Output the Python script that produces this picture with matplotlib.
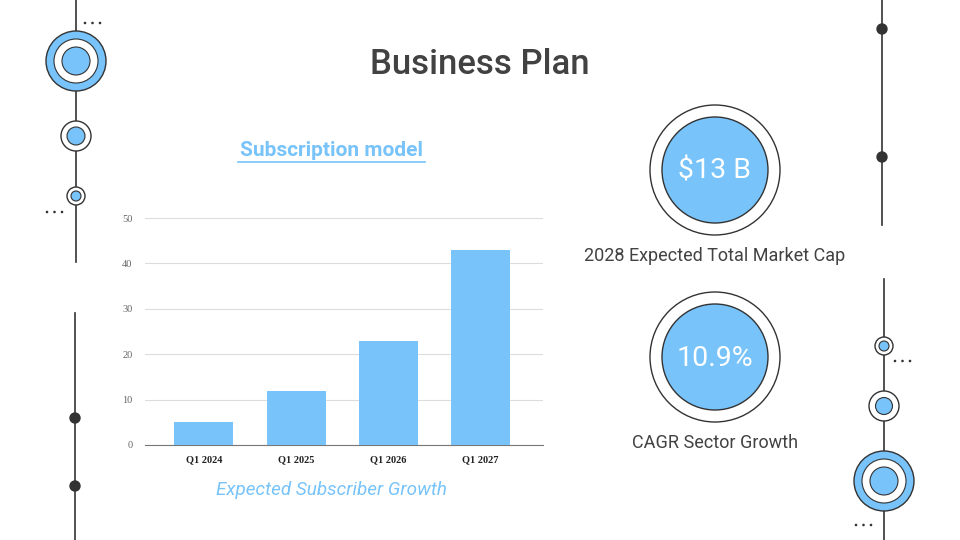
import matplotlib
matplotlib.use("Agg")
import matplotlib.pyplot as plt
from matplotlib.patches import Circle

categories = ["Q1 2024", "Q1 2025", "Q1 2026", "Q1 2027"]
subscribers = [5, 12, 23, 43]
y_ticks = [0, 10, 20, 30, 40, 50]

title = "Business Plan"
chart_title = "Subscription model"
chart_caption = "Expected Subscriber Growth"
stat_values = ["$13 B", "10.9%"]
stat_labels = ["2028 Expected Total Market Cap", "CAGR Sector Growth"]

BLUE = "#77C3FA"
DARK = "#424242"
EDGE = "#333333"

text_font = "Roboto"
serif_font = "Liberation Serif"

fig = plt.figure(figsize=(9.6, 5.4), dpi=100)
fig.patch.set_facecolor("white")
bg = fig.add_axes([0, 0, 1, 1])
bg.set_xlim(0, 960)
bg.set_ylim(540, 0)
bg.axis("off")

def line(x, y0, y1):
    bg.plot([x, x], [y0, y1], color=EDGE, lw=1.2, zorder=1)

def dot(x, y, r=5):
    bg.add_patch(Circle((x, y), r, facecolor=EDGE, edgecolor=EDGE, zorder=3))

def ring_small(x, y, ro, ri):
    bg.add_patch(Circle((x, y), ro, facecolor="white", edgecolor=EDGE, lw=1, zorder=3))
    bg.add_patch(Circle((x, y), ri, facecolor=BLUE, edgecolor=EDGE, lw=0.8, zorder=4))

def ring_big(x, y):
    bg.add_patch(Circle((x, y), 30, facecolor=BLUE, edgecolor=EDGE, lw=1, zorder=3))
    bg.add_patch(Circle((x, y), 22, facecolor="white", edgecolor=EDGE, lw=0.8, zorder=4))
    bg.add_patch(Circle((x, y), 14, facecolor=BLUE, edgecolor=EDGE, lw=0.8, zorder=5))

def dots3(x0, y):
    for i in range(3):
        bg.add_patch(Circle((x0 + i * 7.5, y), 1.3, facecolor=EDGE, edgecolor="none", zorder=3))

# left top decoration
line(76, 0, 262)
ring_big(76, 61)
ring_small(76, 136, 15, 9)
ring_small(76, 196, 9, 5)
dots3(85, 23)
dots3(47, 212)
# left bottom
line(75, 313, 540)
dot(75, 418)
dot(75, 486)
# right top
line(882, 0, 225)
dot(882, 29)
dot(882, 157)
# right bottom
line(884, 279, 540)
ring_small(884, 346, 9, 5)
ring_small(884, 406, 15, 8.5)
ring_big(884, 481)
dots3(895, 361)
dots3(856, 525)

# title texts
bg.text(480, 65, title, ha="center", va="center", fontsize=25, color=DARK,
        family=text_font, fontweight="medium")
bg.text(331, 151, chart_title, ha="center", va="center", fontsize=15, color=BLUE,
        family=text_font, fontweight="bold")
bg.plot([238, 425], [161.5, 161.5], color=BLUE, lw=1.2)
bg.text(331, 490, chart_caption, ha="center", va="center", fontsize=13.6, color=BLUE,
        family=text_font, style="italic")

# stat circles
for cy, val, lab in zip([170, 357], stat_values, stat_labels):
    bg.add_patch(Circle((715, cy), 65, facecolor="white", edgecolor=EDGE, lw=1, zorder=3))
    bg.add_patch(Circle((715, cy), 53, facecolor=BLUE, edgecolor=EDGE, lw=1, zorder=4))
    bg.text(715, cy + 1, val, ha="center", va="center", fontsize=20.5, color="white",
            family=text_font, zorder=5)
    bg.text(715, cy + 86, lab, ha="center", va="center", fontsize=13, color=DARK,
            family=text_font, zorder=5)

# bar chart
ax = fig.add_axes([145 / 960, 1 - 445 / 540, (543 - 145) / 960, (445 - 218) / 540])
x = range(len(categories))
ax.bar(x, subscribers, width=0.64, color=BLUE, zorder=3)
ax.set_xlim(-0.64, 3.68)
ax.set_ylim(0, 50)
ax.set_yticks(y_ticks)
ax.set_yticklabels([str(v) for v in y_ticks], family=serif_font, fontsize=7.5, color="#666666")
ax.set_xticks(list(x))
ax.set_xticklabels(categories, family=serif_font, fontsize=7.5, fontweight="bold", color="#222222")
ax.grid(axis="y", color="#dddddd", lw=0.8, zorder=0)
for s in ["top", "right", "left"]:
    ax.spines[s].set_visible(False)
ax.spines["bottom"].set_color("#777777")
ax.tick_params(axis="y", length=0, pad=9)
ax.tick_params(axis="x", length=0, pad=7)
ax.set_facecolor("none")

fig.savefig("out.png", dpi=100, facecolor="white")
